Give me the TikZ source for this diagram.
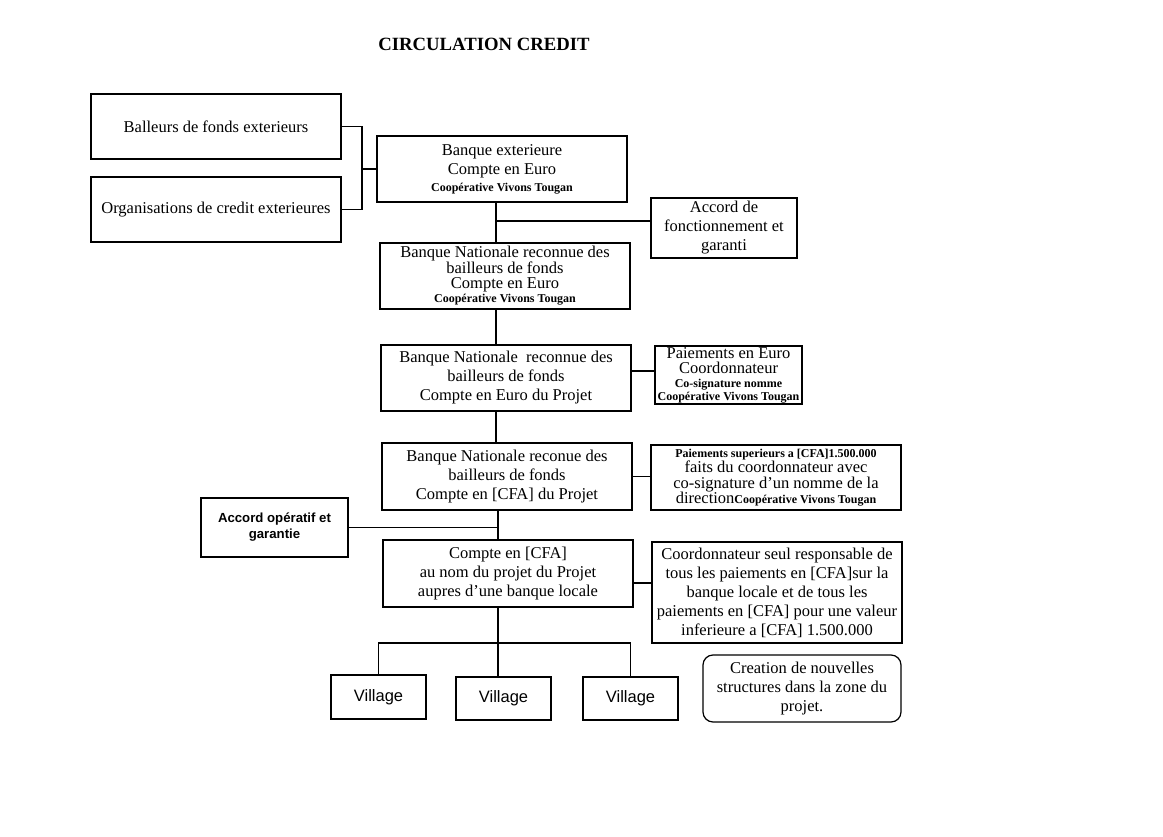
\documentclass[tikz,border=0pt]{standalone}
\usepackage{fontspec}
\setmainfont{Liberation Serif}
\newfontfamily\arialfont{Liberation Sans}
\newcommand{\cvt}{{\fontsize{12}{13}\selectfont\bfseries Coopérative Vivons Tougan}}
\newcommand{\menu}[1]{{\fontsize{12}{13}\selectfont\bfseries #1}}
\tikzset{
  boite/.style={draw, line width=1.2pt, minimum width=250pt, minimum height=66pt,
    align=center, inner sep=0pt, font=\fontsize{16.5}{19}\selectfont},
  petite/.style={boite, minimum width=147pt, minimum height=60pt},
  village/.style={boite, minimum width=95pt, minimum height=44pt,
    font=\arialfont\fontsize{16.5}{19}\selectfont},
  lien/.style={line width=1.2pt}
}
\begin{document}
\begin{tikzpicture}[x=1pt, y=-1pt]
\useasboundingbox (0,0) rectangle (1163,837);
% Title
\node[font=\fontsize{18.7}{20}\selectfont\bfseries] (titre) at (484,44) {CIRCULATION CREDIT};
% Left column
\node[boite, minimum height=65pt] (ball) at (216,126.5) {Balleurs de fonds exterieurs};
\node[boite, minimum height=65pt] (org) at (216,209.5) {Organisations de credit exterieures};
% Main column
\node[boite] (bext) at (502,169) {Banque exterieure\\Compte en Euro\\[-2pt]\cvt};
\node[boite, font=\fontsize{16.5}{15}\selectfont] (bn1) at (505,276)
  {Banque Nationale reconnue des\\bailleurs de fonds\\Compte en Euro\\[-1pt]\cvt};
\node[boite] (bn2) at (506,378) {Banque Nationale\ \ reconnue des\\bailleurs de fonds\\Compte en Euro du Projet};
\node[boite, minimum height=67pt] (bn3) at (507,476.5) {Banque Nationale reconue des\\bailleurs de fonds\\Compte en [CFA] du Projet};
\node[boite, minimum height=67pt] (compte) at (508,573.5) {Compte en [CFA]\\au nom du projet du Projet\\aupres d'une banque locale};
% Right column
\node[petite, minimum width=146pt, text depth=4pt] (acc1) at (724,228) {Accord de\\fonctionnement et\\garanti};
\node[petite, minimum height=58pt, font=\fontsize{16.5}{15}\selectfont] (pay1) at (728.5,375)
  {Paiements en Euro\\Coordonnateur\\[-1pt]\menu{Co-signature nomme}\\[-2pt]\cvt};
\node[boite, minimum height=65pt, font=\fontsize{16.5}{15.5}\selectfont] (pay2) at (776,477.5)
  {\menu{Paiements superieurs a [CFA]1.500.000}\\faits du coordonnateur avec\\co-signature d'un nomme de la\\direction\cvt};
\node[boite, minimum height=101pt] (coord) at (777,592.5)
  {Coordonnateur seul responsable de\\tous les paiements en [CFA]sur la\\banque locale et de tous les\\paiements en [CFA] pour une valeur\\inferieure a [CFA] 1.500.000};
\node[boite, minimum width=198pt, minimum height=67pt, rounded corners=10pt] (crea) at (802,688.5)
  {Creation de nouvelles\\structures dans la zone du\\projet.};
\node[petite, minimum height=59pt, font=\arialfont\bfseries\fontsize{13.2}{16}\selectfont] (acc2) at (274.5,527.5)
  {Accord opératif et\\garantie};
% Villages
\node[village] (v1) at (378.5,697) {Village};
\node[village, minimum height=43pt] (v2) at (503.5,698.5) {Village};
\node[village, minimum height=43pt] (v3) at (630.5,698.5) {Village};
% Connectors
\coordinate (j1) at (362,169);
\coordinate (sp) at (496,221);
\coordinate (j2) at (498,526);
\coordinate (j3) at (0,583);
\coordinate (bus) at (498,643);
\draw[lien] (ball.east) -| (j1) |- (org.east);
\draw[lien] (j1) -- (bext.west);
\draw[lien] (bext.south -| sp) -- (bn1.north -| sp);
\draw[lien] (sp) -- (sp -| acc1.west);
\draw[lien] (bn1.south -| sp) -- (bn2.north -| sp);
\draw[lien] (bn2.north -| sp) ++(0,66) -- (bn3.north -| sp);
\draw[lien] ([yshift=7pt]bn2.east) -- ([yshift=7pt]bn2.east -| pay1.west);
\draw[lien] (bn3.east) -- (bn3.east -| pay2.west);
\draw[lien] (bn3.south -| j2) -- (compte.north -| j2);
\draw[lien] (acc2.east) -- (acc2.east -| j2);
\draw[lien] (compte.east |- j3) -- (coord.west |- j3);
\draw[lien] (compte.south -| bus) -- (bus);
\draw[lien] (v1.north) |- (bus) -| (v3.north);
\draw[lien] (bus) -- (bus |- v2.north);
\end{tikzpicture}
\end{document}
